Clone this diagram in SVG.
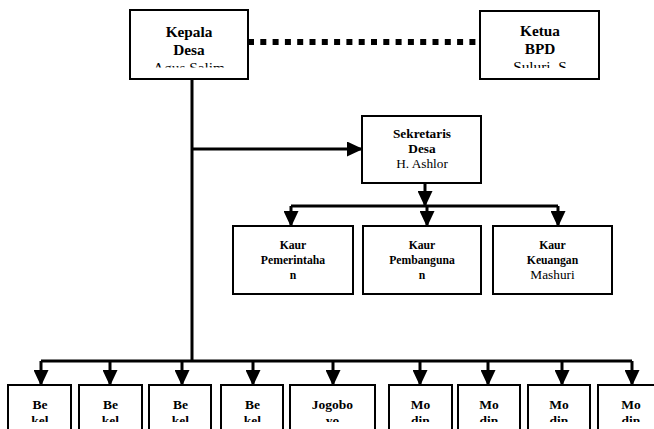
<svg xmlns="http://www.w3.org/2000/svg" width="654" height="429" viewBox="0 0 654 429">
<style>
.box{fill:#fff;stroke:#000;stroke-width:2}
.t{font-family:"Liberation Serif","Times New Roman",serif;text-anchor:middle;fill:#000}
.b{font-weight:bold}
.big{font-size:15.3px}
.mid{font-size:13.3px}
.sm{font-size:11.7px}
.bot{font-size:13.5px}
.ln{fill:none;stroke:#000;stroke-width:3}
.arr{fill:none;stroke:#000;stroke-width:3;marker-end:url(#ah)}
</style>
<defs>
<marker id="ah" markerUnits="userSpaceOnUse" markerWidth="16" markerHeight="15" refX="15" refY="7.5" orient="auto" viewBox="0 0 16 15">
<path d="M0,0 L16,7.5 L0,15 Z" fill="#000"/>
</marker>
<clipPath id="cKep"><rect x="131" y="11" width="116" height="56.5"/></clipPath>
<clipPath id="cKet"><rect x="481" y="12" width="117" height="56"/></clipPath>
<clipPath id="cBot"><rect x="0" y="386" width="654" height="36"/></clipPath>
</defs>
<rect width="654" height="429" fill="#fff"/>

<g id="connectors">
<path class="ln" d="M192,79 V361"/>
<path class="arr" d="M192,149 H362"/>
<path d="M248,42 H480" fill="none" stroke="#000" stroke-width="6" stroke-dasharray="6 6.3"/>
<path class="arr" d="M425,183 V206"/>
<path class="ln" d="M291,206 H558"/>
<path class="arr" d="M291,206 V226"/>
<path class="arr" d="M427,206 V226"/>
<path class="arr" d="M558,206 V226"/>
<path class="ln" d="M41,361 H632"/>
<path class="arr" d="M41,361 V385"/>
<path class="arr" d="M110,361 V385"/>
<path class="arr" d="M182,361 V385"/>
<path class="arr" d="M253,361 V385"/>
<path class="arr" d="M333,361 V385"/>
<path class="arr" d="M420,361 V385"/>
<path class="arr" d="M488,361 V385"/>
<path class="arr" d="M562,361 V385"/>
<path class="arr" d="M632,361 V385"/>
</g>

<g id="kepala-desa">
<rect class="box" x="130" y="10" width="118" height="69"/>
<g clip-path="url(#cKep)">
<text class="t b big" x="189" y="37">Kepala</text>
<text class="t b big" x="189" y="55">Desa</text>
<text class="t big" x="189" y="73">Agus Salim</text>
</g>
</g>

<g id="ketua-bpd">
<rect class="box" x="480" y="11" width="119" height="68"/>
<g clip-path="url(#cKet)">
<text class="t b big" x="540" y="36">Ketua</text>
<text class="t b big" x="540" y="53.5">BPD</text>
<text class="t big" x="540" y="72">Suluri. S</text>
</g>
</g>

<g id="sekretaris-desa">
<rect class="box" x="362" y="116" width="119" height="67"/>
<text class="t b mid" x="422" y="138">Sekretaris</text>
<text class="t b mid" x="422" y="153">Desa</text>
<text class="t mid" x="422" y="168">H. Ashlor</text>
</g>

<g id="kaur-pemerintahan">
<rect class="box" x="233" y="226" width="120" height="68"/>
<text class="t b sm" x="293" y="249">Kaur</text>
<text class="t b sm" x="293" y="264">Pemerintaha</text>
<text class="t b sm" x="293" y="279">n</text>
</g>

<g id="kaur-pembangunan">
<rect class="box" x="363" y="226" width="118" height="68"/>
<text class="t b sm" x="422" y="249">Kaur</text>
<text class="t b sm" x="422" y="264">Pembanguna</text>
<text class="t b sm" x="422" y="279">n</text>
</g>

<g id="kaur-keuangan">
<rect class="box" x="493" y="226" width="119" height="68"/>
<text class="t b sm" x="552.5" y="249">Kaur</text>
<text class="t b sm" x="552.5" y="264">Keuangan</text>
<text class="t mid" x="552.5" y="279">Mashuri</text>
</g>

<g id="bekel-1">
<rect class="box" x="8" y="385" width="63" height="60"/>
<g clip-path="url(#cBot)"><text class="t b bot" x="40" y="409">Be</text><text class="t b bot" x="40" y="424.5">kel</text></g>
</g>
<g id="bekel-2">
<rect class="box" x="79" y="385" width="63" height="60"/>
<g clip-path="url(#cBot)"><text class="t b bot" x="110.5" y="409">Be</text><text class="t b bot" x="110.5" y="424.5">kel</text></g>
</g>
<g id="bekel-3">
<rect class="box" x="149" y="385" width="62" height="60"/>
<g clip-path="url(#cBot)"><text class="t b bot" x="180.5" y="409">Be</text><text class="t b bot" x="180.5" y="424.5">kel</text></g>
</g>
<g id="bekel-4">
<rect class="box" x="221" y="385" width="62" height="60"/>
<g clip-path="url(#cBot)"><text class="t b bot" x="252.5" y="409">Be</text><text class="t b bot" x="252.5" y="424.5">kel</text></g>
</g>
<g id="jogoboyo">
<rect class="box" x="290" y="385" width="85" height="60"/>
<g clip-path="url(#cBot)"><text class="t b bot" x="332.5" y="409">Jogobo</text><text class="t b bot" x="332.5" y="424.5">yo</text></g>
</g>
<g id="modin-1">
<rect class="box" x="389" y="385" width="63" height="60"/>
<g clip-path="url(#cBot)"><text class="t b bot" x="420.5" y="409">Mo</text><text class="t b bot" x="420.5" y="424.5">din</text></g>
</g>
<g id="modin-2">
<rect class="box" x="458" y="385" width="62" height="60"/>
<g clip-path="url(#cBot)"><text class="t b bot" x="489" y="409">Mo</text><text class="t b bot" x="489" y="424.5">din</text></g>
</g>
<g id="modin-3">
<rect class="box" x="528" y="385" width="62" height="60"/>
<g clip-path="url(#cBot)"><text class="t b bot" x="559" y="409">Mo</text><text class="t b bot" x="559" y="424.5">din</text></g>
</g>
<g id="modin-4">
<rect class="box" x="598" y="385" width="66" height="60"/>
<g clip-path="url(#cBot)"><text class="t b bot" x="631" y="409">Mo</text><text class="t b bot" x="631" y="424.5">din</text></g>
</g>
</svg>
